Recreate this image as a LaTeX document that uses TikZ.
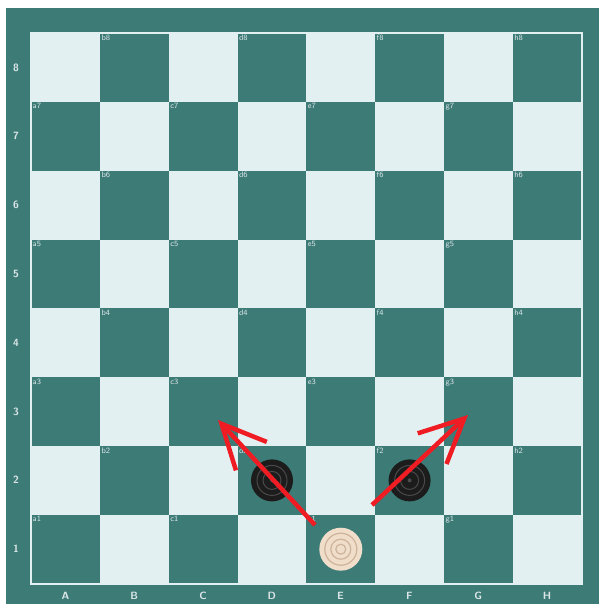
\documentclass[tikz,border=0pt]{standalone}
\usepackage{tikz}
\usetikzlibrary{arrows.meta}
\definecolor{boardteal}{HTML}{3D7B77}
\definecolor{boardlight}{HTML}{E3F0F2}
\definecolor{labelgrey}{HTML}{DCE6E8}
\definecolor{manblack}{HTML}{1C1C1C}
\definecolor{ringblack}{HTML}{4A4A4A}
\definecolor{manwhite}{HTML}{F0DECB}
\definecolor{ringwhite}{HTML}{CDB39B}
\definecolor{movered}{HTML}{F01C24}

\begin{document}
\begin{tikzpicture}[
      x=1pt, y=-1pt,
      darksq/.style={rectangle, fill=boardteal, minimum size=68.8pt, inner sep=0pt, anchor=north west},
      lightsq/.style={darksq, fill=boardlight},
      sqlabel/.style={font=\sffamily\fontsize{8}{9}\selectfont, text=labelgrey, anchor=north west, inner sep=1.5pt},
      rimlabel/.style={font=\sffamily\bfseries\fontsize{10.5}{12}\selectfont, text=labelgrey},
      blackman/.style={circle, fill=manblack, minimum size=42pt, inner sep=0pt},
      whiteman/.style={circle, fill=manwhite, minimum size=43pt, inner sep=0pt},
      move/.style={draw=movered, line width=4.5pt, -{Straight Barb[length=44pt, width=42pt]}}
  ]

  \useasboundingbox (0,0) rectangle (599,604);
  \fill[boardteal] (6,8) rectangle (599,604);

  % squares, labels on the dark ones
  \foreach \c [count=\i] in {a,...,h} {
    \foreach \r in {1,...,8} {
      \ifodd\numexpr\i+\r\relax
        \node[lightsq] (\c\r) at ({31+(\i-1)*68.8},{33+(8-\r)*68.8}) {};
      \else
        \node[darksq] (\c\r) at ({31+(\i-1)*68.8},{33+(8-\r)*68.8}) {};
        \node[sqlabel] (lab-\c\r) at (\c\r.north west) {\c\r};
      \fi
    }
  }
  \draw[boardlight, line width=1.5pt] (a8.north west) rectangle (h1.south east);

  % rank and file names
  \foreach \r in {1,...,8}
    \node[rimlabel] (rank\r) at (16, {33+(8-\r)*68.8+34.4}) {\r};
  \foreach \C [count=\i] in {A,...,H}
    \node[rimlabel] (file\C) at ({31+(\i-0.5)*68.8}, 596) {\C};

  % men
  \foreach \sq in {d2,f2} {
    \node[blackman] (man-\sq) at (\sq) {};
    \foreach \rad in {15,9}
      \draw[ringblack, line width=1pt] (man-\sq) circle[radius=\rad];
    \fill[ringblack] (man-\sq) circle[radius=2];
  }
  \node[whiteman] (man-e1) at (e1) {};
  \foreach \rad in {16,10,5}
    \draw[ringwhite, line width=1.2pt] (man-e1) circle[radius=\rad];

  % moves
  \coordinate (left-from) at (315,525);
  \coordinate (left-to) at (218,420);
  \coordinate (right-from) at (372,505);
  \coordinate (right-to) at (468,415);
  \draw[move] (left-from) -- (left-to);
  \draw[move] (right-from) -- (right-to);

\end{tikzpicture}
\end{document}
